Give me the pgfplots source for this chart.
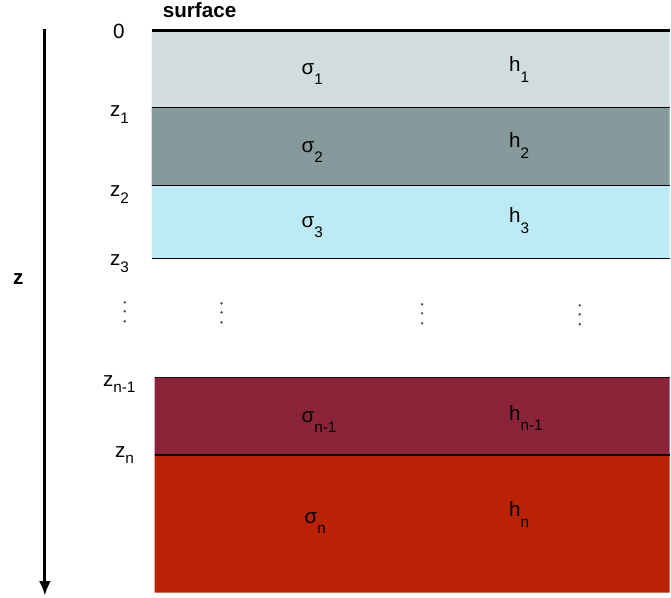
\documentclass[border=0pt]{standalone}
\usepackage{pgfplots}
\pgfplotsset{compat=1.18}
\usetikzlibrary{arrows.meta}
\usepackage{fontspec}
\setmainfont{Liberation Sans}
\definecolor{cA}{HTML}{D1DCDC}
\definecolor{cB}{HTML}{879A9B}
\definecolor{cC}{HTML}{BDEBF5}
\definecolor{cD}{HTML}{8C2439}
\definecolor{cE}{HTML}{BB2205}
\newcommand{\fs}{\fontsize{15.5}{18}\selectfont}
\newcommand{\sbs}[2]{\raisebox{-#1pt}{\fontsize{11.5}{13}\selectfont #2}}
\begin{document}
\begin{tikzpicture}
\begin{axis}[scale only axis, width=503.25pt, height=449.25pt,
  xmin=0, xmax=671, ymin=0, ymax=599, y dir=reverse,
  hide axis, clip=false]
\path (axis cs:0,0) rectangle (axis cs:671,599);
% layers
\addplot[fill=cA, draw=none] coordinates {(152,31) (671,31) (671,108) (152,108) (152,31)};
\addplot[fill=cB, draw=none] coordinates {(152,108) (671,108) (671,186) (152,186) (152,108)};
\addplot[fill=cC, draw=none] coordinates {(152,186) (671,186) (671,259) (152,259) (152,186)};
\addplot[fill=cD, draw=none] coordinates {(155,378) (671,378) (671,456) (155,456) (155,378)};
\addplot[fill=cE, draw=none] coordinates {(155,456) (671,456) (671,594) (155,594) (155,456)};
% boundaries
\addplot[black, line width=2.2pt] coordinates {(152,31) (671,31)};
\addplot[black, line width=0.9pt] coordinates {(152,108) (671,108)};
\addplot[black, line width=0.9pt] coordinates {(152,186) (671,186)};
\addplot[black, line width=0.9pt] coordinates {(152,259) (671,259)};
\addplot[black!70!cD, line width=0.9pt] coordinates {(155,378) (671,378)};
\addplot[black, line width=0.9pt] coordinates {(155,456) (671,456)};
% arrow
\addplot[black, line width=2.2pt, -{Latex[length=11pt,width=9pt]}] coordinates {(45,29) (45,597)};
% dots
\addplot[only marks, mark=*, mark size=0.7pt, color=black!70] coordinates {
(125,303) (125,312) (125,322)
(222,304) (222,313) (222,323)
(423,305) (423,314) (423,324)
(581,306) (581,315) (581,325)};
% labels
\node[anchor=base west, inner sep=0pt] at (axis cs:163,18) {\fs\bfseries surface};
\node[anchor=base west, inner sep=0pt] at (axis cs:13,285) {\fs\bfseries z};
\node[anchor=base west, inner sep=0pt] at (axis cs:113,39) {\fs 0};
\node[anchor=base west, inner sep=0pt] at (axis cs:110,117) {\fs z\sbs{5}{1}};
\node[anchor=base west, inner sep=0pt] at (axis cs:110,197) {\fs z\sbs{5}{2}};
\node[anchor=base west, inner sep=0pt] at (axis cs:110,266) {\fs z\sbs{5}{3}};
\node[anchor=base west, inner sep=0pt] at (axis cs:103,387) {\fs z\sbs{5}{n-1}};
\node[anchor=base west, inner sep=0pt] at (axis cs:115,458) {\fs z\sbs{5}{n}};
\node[anchor=base west, inner sep=0pt] at (axis cs:302,75) {\fs σ\sbs{7.5}{1}};
\node[anchor=base west, inner sep=0pt] at (axis cs:302,153) {\fs σ\sbs{7.5}{2}};
\node[anchor=base west, inner sep=0pt] at (axis cs:302,228) {\fs σ\sbs{7.5}{3}};
\node[anchor=base west, inner sep=0pt] at (axis cs:302,423) {\fs σ\sbs{7.5}{n-1}};
\node[anchor=base west, inner sep=0pt] at (axis cs:305,525) {\fs σ\sbs{7.5}{n}};
\node[anchor=base west, inner sep=0pt] at (axis cs:510,72) {\fs h\sbs{8}{1}};
\node[anchor=base west, inner sep=0pt] at (axis cs:510,148) {\fs h\sbs{8}{2}};
\node[anchor=base west, inner sep=0pt] at (axis cs:510,223) {\fs h\sbs{8}{3}};
\node[anchor=base west, inner sep=0pt] at (axis cs:510,421) {\fs h\sbs{8}{n-1}};
\node[anchor=base west, inner sep=0pt] at (axis cs:510,518) {\fs h\sbs{8}{n}};
\end{axis}
\end{tikzpicture}
\end{document}
